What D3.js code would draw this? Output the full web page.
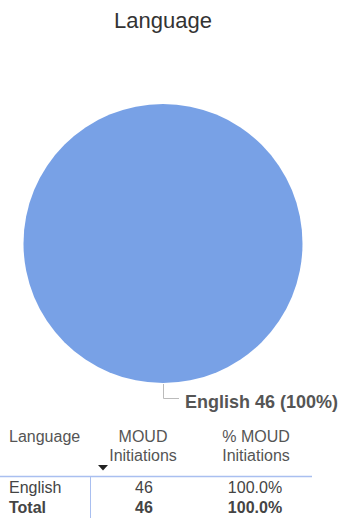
<!DOCTYPE html>
<html>
<head>
<meta charset="utf-8">
<script src="https://cdn.jsdelivr.net/npm/d3@7"></script>
<style>
  html, body { margin: 0; padding: 0; background: #fff; }
  svg { display: block; font-family: "Liberation Sans", Arial, sans-serif; }
</style>
</head>
<body>
<svg id="chart" width="341" height="518"></svg>
<script>
const title = "Language";
const categories = ["English"];
const values = [46];
const colors = ["#78a1e6"];
const tableHeaders = [["Language"], ["MOUD", "Initiations"], ["% MOUD", "Initiations"]];
const tableRows = [["English", "46", "100.0%"]];
const totalRow = ["Total", "46", "100.0%"];

const svg = d3.select("#chart");

svg.append("text")
  .attr("x", 163).attr("y", 28)
  .attr("text-anchor", "middle")
  .attr("font-size", 22)
  .attr("fill", "#333")
  .text(title);

const cx = 163, cy = 243.5, r = 139.5;
const total = d3.sum(values);
const pie = d3.pie().sort(null).value(d => d);
const arc = d3.arc().innerRadius(0).outerRadius(r);
const g = svg.append("g").attr("transform", `translate(${cx},${cy})`);
const arcs = pie(values);
g.selectAll("path").data(arcs).enter().append("path")
  .attr("d", arc)
  .attr("fill", (d, i) => colors[i]);

// leader line and label
arcs.forEach((d, i) => {
  const mid = Math.PI; // single full slice -> label at bottom
  const x0 = Math.sin(mid) * r, y0 = -Math.cos(mid) * r;
  const lx = cx + x0, ly = cy + y0;
  svg.append("path")
    .attr("d", `M${lx + 0.5},${ly + 1}V${ly + 15.5}H${lx + 16}`)
    .attr("fill", "none").attr("stroke", "#bbb").attr("stroke-width", 1);
  svg.append("text")
    .attr("x", lx + 22).attr("y", ly + 24.5)
    .attr("font-size", 18).attr("font-weight", "bold")
    .attr("fill", "#555")
    .text(`${categories[i]} ${values[i]} (${Math.round(values[i] / total * 100)}%)`);
});

// table
const colX = [9, 143, 256];
const anchors = ["start", "middle", "middle"];
tableHeaders.forEach((lines, ci) => {
  lines.forEach((t, li) => {
    svg.append("text")
      .attr("x", colX[ci]).attr("y", 442 + li * 18.5)
      .attr("text-anchor", anchors[ci])
      .attr("font-size", 16).attr("fill", "#555")
      .text(t);
  });
});
// sort triangle
svg.append("path")
  .attr("d", "M98,465 L108,465 L103,470.5 Z")
  .attr("fill", "#222");
// header underline
svg.append("line")
  .attr("x1", 0).attr("x2", 312).attr("y1", 476.5).attr("y2", 476.5)
  .attr("stroke", "#a9bff0").attr("stroke-width", 1.5);
// vertical divider
svg.append("line")
  .attr("x1", 90.5).attr("x2", 90.5).attr("y1", 477).attr("y2", 518)
  .attr("stroke", "#a9bff0").attr("stroke-width", 1);

const rows = tableRows.concat([totalRow]);
rows.forEach((row, ri) => {
  const bold = ri === rows.length - 1;
  row.forEach((t, ci) => {
    svg.append("text")
      .attr("x", colX[ci] + (ci === 2 ? -1 : ci === 1 ? 1 : 0)).attr("y", 493 + ri * 20)
      .attr("text-anchor", anchors[ci])
      .attr("font-size", 16)
      .attr("font-weight", bold ? "bold" : "normal")
      .attr("fill", "#444")
      .text(t);
  });
});
</script>
</body>
</html>
